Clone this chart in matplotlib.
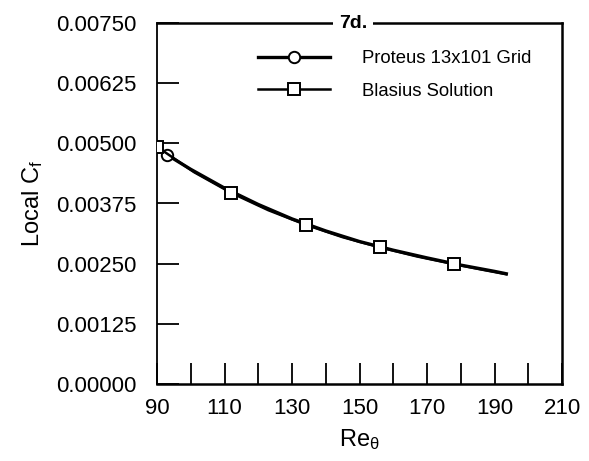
import matplotlib
matplotlib.use("Agg")
import matplotlib.pyplot as plt
from matplotlib.ticker import FixedLocator, FuncFormatter

plt.rcParams['font.family'] = ['Liberation Sans', 'DejaVu Sans']
plt.rcParams['mathtext.fontset'] = 'custom'
plt.rcParams['mathtext.rm'] = 'Liberation Sans'
plt.rcParams['mathtext.it'] = 'Liberation Sans:italic'

# Proteus 13x101 grid result
proteus_re = [93, 100, 110, 120, 130, 140, 150, 160, 170, 180, 190, 193.5]
proteus_cf = [0.00476, 0.00446, 0.00407, 0.00373, 0.00343, 0.00318,
              0.00296, 0.00278, 0.00262, 0.00247, 0.00234, 0.00229]

# Blasius solution curve, squares on every other point
blasius_re = [90, 101, 112, 123, 134, 145, 156, 167, 178, 186, 193.5]
blasius_cf = [0.00493, 0.00440, 0.00397, 0.00361, 0.00331, 0.00305,
              0.00284, 0.00265, 0.00249, 0.00238, 0.00228]
blasius_marks = [0, 2, 4, 6, 8]

xticks = [90, 100, 110, 120, 130, 140, 150, 160, 170, 180, 190, 200, 210]
xlabels = ['90', '', '110', '', '130', '', '150', '', '170', '', '190', '', '210']
yticks = [0.0, 0.00125, 0.0025, 0.00375, 0.005, 0.00625, 0.0075]

fig = plt.figure(figsize=(5.89, 4.61), dpi=100)
ax = fig.add_axes([157 / 589, 77 / 461, 405 / 589, 361 / 461])

ax.plot(proteus_re, proteus_cf, color='black', lw=2.4,
        marker='o', markevery=[0], ms=8.2, mfc='white', mec='black', mew=1.4,
        label='Proteus 13x101 Grid', zorder=3)
ax.plot(blasius_re, blasius_cf, color='black', lw=1.8,
        marker='s', markevery=blasius_marks, ms=8.8, mfc='white', mec='black',
        mew=1.4, label='Blasius Solution', zorder=4)

ax.set_xlim(90, 210)
ax.set_ylim(0, 0.0075)
ax.xaxis.set_major_locator(FixedLocator(xticks))
ax.set_xticklabels(xlabels)
ax.yaxis.set_major_locator(FixedLocator(yticks))
ax.yaxis.set_major_formatter(FuncFormatter(lambda v, p: f'{v:.5f}'))

ax.tick_params(axis='x', direction='in', length=15, width=1.3, pad=10, labelsize=16)
ax.tick_params(axis='y', direction='in', length=16, width=1.3, pad=15, labelsize=16)

for sp in ax.spines.values():
    sp.set_linewidth(1.8)
ax.spines['left'].set_linewidth(1.3)

ax.set_xlabel(r'Re$_\mathregular{θ}$', fontsize=17, labelpad=6)
ax.set_ylabel(r'Local C$_\mathregular{f}$', fontsize=17, labelpad=8)

ax.text(0.484, 1.0, '7d.', transform=ax.transAxes, ha='center', va='center',
        fontsize=14, fontweight='bold',
        bbox=dict(facecolor='white', edgecolor='none', pad=4), zorder=10)

ax.legend(loc='upper left', bbox_to_anchor=(0.25, 0.925), frameon=False,
          fontsize=13.3, handlelength=3.9, handletextpad=1.7, labelspacing=0.85,
          borderpad=0, borderaxespad=0)

fig.savefig('out.png', dpi=100)
